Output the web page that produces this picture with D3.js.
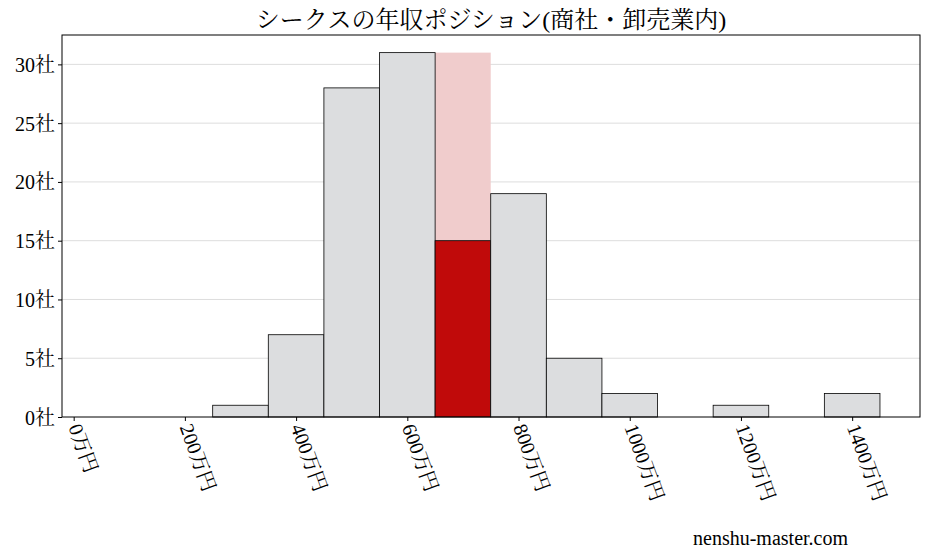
<!DOCTYPE html><html><head><meta charset="utf-8"><script src="https://cdn.jsdelivr.net/npm/d3@7"></script>
<style>body{margin:0;background:#fff}text{font-family:"Liberation Serif","Noto Serif CJK JP","Noto Sans CJK JP",serif}</style></head><body><svg id="c" width="928" height="557"></svg><script>
const binStarts=[250,350,450,550,650,750,850,950,1150,1350];
const counts=[1,7,28,31,15,19,5,2,1,2];
const highlightIndex=4;
const highlightMax=31;
const xTicks=[0,200,400,600,800,1000,1200,1400];
const yTicks=[0,5,10,15,20,25,30];
const binWidth=100;
const svg=d3.select("#c");
const x=d3.scaleLinear().domain([-21,1522]).range([62,920]);
const y=d3.scaleLinear().domain([0,32.5]).range([417,35]);
const g=svg.append("g");
g.selectAll("line.grid").data(yTicks.slice(1)).join("line").attr("x1",62).attr("x2",920).attr("y1",d=>y(d)).attr("y2",d=>y(d)).attr("stroke","#ddd").attr("stroke-width",1);
g.append("rect").attr("x",x(binStarts[highlightIndex])).attr("width",x(binWidth)-x(0)).attr("y",y(highlightMax)).attr("height",y(0)-y(highlightMax)).attr("fill","#f0cccc");
g.selectAll("rect.bar").data(binStarts).join("rect").attr("class","bar").attr("x",d=>x(d)).attr("width",x(binWidth)-x(0)).attr("y",(d,i)=>y(counts[i])).attr("height",(d,i)=>y(0)-y(counts[i])).attr("fill",(d,i)=>i===highlightIndex?"#c00a0a":"#dcdddf").attr("stroke","#000").attr("stroke-width",0.8);
svg.append("rect").attr("x",62).attr("y",35).attr("width",858).attr("height",382).attr("fill","none").attr("stroke","#000");
const ya=svg.append("g").attr("transform","translate(62,0)").call(d3.axisLeft(y).tickValues(yTicks).tickFormat(d=>d+"社").tickSize(4));
ya.select(".domain").remove();
ya.selectAll("text").attr("font-size",20).attr("fill","#000").attr("dy","0.35em");
const xa=svg.append("g").attr("transform","translate(0,417)").call(d3.axisBottom(x).tickValues(xTicks).tickFormat(d=>d+"万円").tickSize(4));
xa.select(".domain").remove();
xa.selectAll("text").attr("font-size",20).attr("fill","#000").attr("text-anchor","start").attr("dy","0").attr("y",0).attr("transform","translate(-6,10) rotate(70)");
svg.append("text").attr("x",491).attr("y",28).attr("text-anchor","middle").attr("font-size",24).text("シークスの年収ポジション(商社・卸売業内)");
svg.append("text").attr("x",848).attr("y",545).attr("text-anchor","end").attr("font-size",20).text("nenshu-master.com");
</script></body></html>
